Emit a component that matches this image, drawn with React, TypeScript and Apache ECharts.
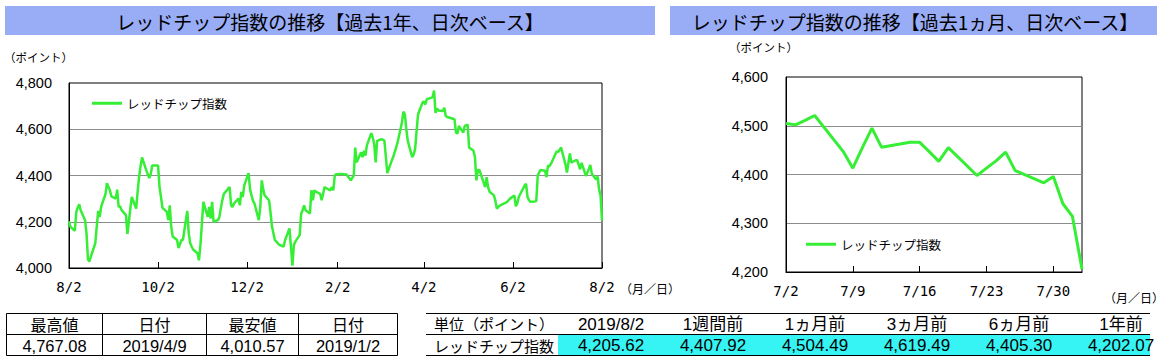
import React, { useEffect, useRef } from "react";
import * as echarts from "echarts";

// ---- Data ----
const yearDates: string[] = [
  "2018-08-02","2018-08-03","2018-08-06","2018-08-07","2018-08-08","2018-08-09","2018-08-10","2018-08-13","2018-08-14","2018-08-15","2018-08-16","2018-08-17","2018-08-20","2018-08-21","2018-08-22","2018-08-23","2018-08-24","2018-08-27","2018-08-28","2018-08-29","2018-08-30","2018-08-31",
  "2018-09-03","2018-09-04","2018-09-05","2018-09-06","2018-09-07","2018-09-10","2018-09-11","2018-09-12","2018-09-13","2018-09-14","2018-09-17","2018-09-18","2018-09-19","2018-09-20","2018-09-21","2018-09-24","2018-09-26","2018-09-27","2018-09-28",
  "2018-10-02","2018-10-03","2018-10-04","2018-10-05","2018-10-08","2018-10-09","2018-10-10","2018-10-11","2018-10-12","2018-10-15","2018-10-16","2018-10-18","2018-10-19","2018-10-22","2018-10-23","2018-10-24","2018-10-25","2018-10-26","2018-10-29","2018-10-30","2018-10-31",
  "2018-11-01","2018-11-02","2018-11-05","2018-11-06","2018-11-07","2018-11-08","2018-11-09","2018-11-12","2018-11-13","2018-11-14","2018-11-15","2018-11-16","2018-11-19","2018-11-20","2018-11-21","2018-11-22","2018-11-23","2018-11-26","2018-11-27","2018-11-28","2018-11-29","2018-11-30",
  "2018-12-03","2018-12-04","2018-12-05","2018-12-06","2018-12-07","2018-12-10","2018-12-11","2018-12-12","2018-12-13","2018-12-14","2018-12-17","2018-12-18","2018-12-19","2018-12-20","2018-12-21","2018-12-24","2018-12-27","2018-12-28","2018-12-31",
  "2019-01-02","2019-01-03","2019-01-04","2019-01-07","2019-01-08","2019-01-09","2019-01-10","2019-01-11","2019-01-14","2019-01-15","2019-01-16","2019-01-17","2019-01-18","2019-01-21","2019-01-22","2019-01-23","2019-01-24","2019-01-25","2019-01-28","2019-01-29","2019-01-30","2019-01-31",
  "2019-02-01","2019-02-04","2019-02-08","2019-02-11","2019-02-12","2019-02-13","2019-02-14","2019-02-15","2019-02-18","2019-02-19","2019-02-20","2019-02-21","2019-02-22","2019-02-25","2019-02-26","2019-02-27","2019-02-28",
  "2019-03-01","2019-03-04","2019-03-05","2019-03-06","2019-03-07","2019-03-08","2019-03-11","2019-03-12","2019-03-13","2019-03-14","2019-03-15","2019-03-18","2019-03-19","2019-03-20","2019-03-21","2019-03-22","2019-03-25","2019-03-26","2019-03-27","2019-03-28","2019-03-29",
  "2019-04-01","2019-04-02","2019-04-03","2019-04-04","2019-04-08","2019-04-09","2019-04-10","2019-04-11","2019-04-12","2019-04-15","2019-04-16","2019-04-17","2019-04-18","2019-04-23","2019-04-24","2019-04-25","2019-04-26","2019-04-29","2019-04-30",
  "2019-05-02","2019-05-03","2019-05-06","2019-05-07","2019-05-08","2019-05-09","2019-05-10","2019-05-14","2019-05-15","2019-05-16","2019-05-17","2019-05-20","2019-05-21","2019-05-22","2019-05-23","2019-05-24","2019-05-27","2019-05-28","2019-05-29","2019-05-30","2019-05-31",
  "2019-06-03","2019-06-04","2019-06-05","2019-06-06","2019-06-10","2019-06-11","2019-06-12","2019-06-13","2019-06-14","2019-06-17","2019-06-18","2019-06-19","2019-06-20","2019-06-21","2019-06-24","2019-06-25","2019-06-26","2019-06-27","2019-06-28",
];
const yearValues: number[] = [
  4202.07,4178,4161,4243,4262,4276,4250,4207,4150,4036,4029,4050,4107,4179,4247,4221,4264,4320,4367,4350,4336,4310,
  4300,4339,4264,4267,4250,4229,4147,4200,4257,4307,4257,4330,4393,4440,4478,4421,4389,4407,4443,
  4443,4350,4307,4260,4243,4207,4271,4179,4136,4121,4086,4121,4121,4247,4150,4107,4093,4080,4064,4033,4100,
  4190,4286,4221,4264,4214,4286,4200,4207,4221,4260,4293,4320,4343,4350,4271,4264,4279,4300,4271,4329,4307,4357,
  4410,4340,4314,4290,4279,4207,4264,4379,4340,4314,4293,4240,4179,4150,4121,4100,4093,4121,4171,
  4010.57,4100,4114,4143,4236,4250,4271,4250,4236,4336,4293,4336,4330,4321,4293,4320,4350,4345,4336,4350,4336,4400,
  4405.30,4407,4404,4379,4390,4400,4521,4457,4500,4479,4507,4486,4530,4583,4564,4536,4457,
  4550,4557,4555,4550,4480,4410,4464,4480,4500,4520,4543,4629,4676,4664,4600,4550,4479,4490,4514,4590,4664,
  4714,4721,4707,4729,4739,4767.08,4671,4690,4681,4679,4693,4657,4653,4643,4586,4581,4614,4586,4614,
  4619.49,4521,4507,4479,4379,4424,4424,4350,4393,4350,4330,4314,4290,4257,4264,4270,4279,4282,4286,4293,4300,
  4314,4267,4280,4307,4357,4364,4307,4293,4286,4288,4290,4400,4414,4424,4421,4393,4443,4440,4450,
];
const monthDates: string[] = [
  "2019-07-02","2019-07-03","2019-07-04","2019-07-05","2019-07-08","2019-07-09","2019-07-10","2019-07-11","2019-07-12",
  "2019-07-15","2019-07-16","2019-07-17","2019-07-18","2019-07-19","2019-07-22","2019-07-23","2019-07-24","2019-07-25",
  "2019-07-26","2019-07-29","2019-07-30","2019-07-31","2019-08-01","2019-08-02",
];
const monthValues: number[] = [
  4504.49,4502,4511,4521,4447,4413,4455,4495,4456,
  4466,4466,4447,4427,4455,4398,4413,4428,4446,
  4407.92,4383,4396,4340,4314,4205.62,
];
const yearTickDates = ["2018-08-02","2018-10-02","2018-12-02","2019-02-02","2019-04-02","2019-06-02","2019-08-02"];
const monthTickDates = ["2019-07-02","2019-07-09","2019-07-16","2019-07-23","2019-07-30"];
const yearStart = "2018-08-02";
const yearEnd = "2019-08-02";
const monthStart = "2019-07-02";
const monthEnd = "2019-08-02";

const seriesName = "レッドチップ指数";
const titleYear = "レッドチップ指数の推移【過去1年、日次ベース】";
const titleMonth = "レッドチップ指数の推移【過去1ヵ月、日次ベース】";
const unitY = "（ポイント）";
const unitX = "（月／日）";

const summaryHeaders = ["最高値", "日付", "最安値", "日付"];
const summaryValues = ["4,767.08", "2019/4/9", "4,010.57", "2019/1/2"];
const compareHeaders = ["単位（ポイント）", "2019/8/2", "1週間前", "1ヵ月前", "3ヵ月前", "6ヵ月前", "1年前"];
const compareRowLabel = "レッドチップ指数";
const compareValues = [4205.62, 4407.92, 4504.49, 4619.49, 4405.30, 4202.07];

// ---- helpers ----
const dayNum = (s: string) => {
  const [y, m, d] = s.split("-").map(Number);
  return Math.round(Date.UTC(y, m - 1, d) / 86400000);
};
const fmtMD = (base: string) => (v: number) => {
  const dt = new Date((dayNum(base) + v) * 86400000);
  return `${dt.getUTCMonth() + 1}/${dt.getUTCDate()}`;
};
const fmtNum = (v: number) => v.toLocaleString("en-US");
const fmt2 = (v: number) =>
  v.toLocaleString("en-US", { minimumFractionDigits: 2, maximumFractionDigits: 2 });

const GREEN = "#35EE35";
const BAR = "#99ACF6";
const CYAN = "#36F4F4";
const JP = "'Noto Sans CJK JP', sans-serif";
const NUMF = "'Liberation Sans', 'Noto Sans CJK JP', sans-serif";

export default function App() {
  const ref = useRef<HTMLDivElement>(null);
  useEffect(() => {
    if (!ref.current) return;
    const chart = echarts.init(ref.current, undefined, { renderer: "svg" });

    const y0 = dayNum(yearStart);
    const m0 = dayNum(monthStart);
    const yearAll = yearDates.concat(monthDates);
    const yearVals = yearValues.concat(monthValues);
    const yearData = yearAll.map((d, i) => [dayNum(d) - y0, yearVals[i]]);
    const monthData = monthDates.map((d, i) => [dayNum(d) - m0, monthValues[i]]);
    const yearTicks = yearTickDates.map((d) => dayNum(d) - y0);
    const monthTicks = monthTickDates.map((d) => dayNum(d) - m0);

    const text = (t: string, x: number, y: number, size: number, family: string, align = "center") => ({
      type: "text",
      silent: true,
      style: {
        text: t, x, y, fill: "#000", fontSize: size, fontFamily: family,
        align, verticalAlign: "middle", textAlign: align, textVerticalAlign: "middle",
      },
    });
    const line = (x1: number, y1: number, x2: number, y2: number) => ({
      type: "line",
      silent: true,
      shape: { x1, y1, x2, y2 },
      style: { stroke: "#000", lineWidth: 1 },
    });

    const graphics: any[] = [];
    // Title bars
    graphics.push({ type: "rect", shape: { x: 5, y: 6, width: 650, height: 29 }, style: { fill: BAR }, silent: true });
    graphics.push(text(titleYear, 330, 21, 19, JP));
    graphics.push({ type: "rect", shape: { x: 670, y: 6, width: 487, height: 29 }, style: { fill: BAR }, silent: true });
    graphics.push(text(titleMonth, 915, 21, 19, JP));
    // unit labels
    graphics.push(text(unitY, 4, 57, 11.5, JP, "left"));
    graphics.push(text(unitY, 729, 47, 11.5, JP, "left"));
    graphics.push(text(unitX, 620, 288, 12, JP, "left"));
    graphics.push(text(unitX, 1104, 297, 12, JP, "left"));

    // Summary table (left bottom)
    const sCols = [6.5, 102.5, 206.5, 298.5, 397.5];
    const sRows = [313.5, 334.5, 355.5];
    sRows.forEach((yy) => graphics.push(line(sCols[0], yy, sCols[4], yy)));
    sCols.forEach((xx) => graphics.push(line(xx, sRows[0], xx, sRows[2])));
    summaryHeaders.forEach((h, i) => {
      const cx = (sCols[i] + sCols[i + 1]) / 2;
      graphics.push(text(h, cx, 324, 16, JP));
      graphics.push(text(summaryValues[i], cx, 345.5, 16.5, NUMF));
    });

    // Comparison table (right bottom)
    const cCenters = [494, 611, 713, 815, 917, 1019, 1121];
    graphics.push({ type: "rect", shape: { x: 558, y: 334, width: 592, height: 21 }, style: { fill: CYAN }, silent: true });
    [313.5, 334.5, 355.5].forEach((yy) => graphics.push(line(426, yy, 1150, yy)));
    compareHeaders.forEach((h, i) => {
      graphics.push(text(h, cCenters[i], 324, i === 0 ? 15 : 17, NUMF));
    });
    graphics.push(text(compareRowLabel, cCenters[0], 345, 15, JP));
    compareValues.forEach((v, i) => {
      graphics.push(text(fmt2(v), cCenters[i + 1], 345.5, 17, NUMF));
    });

    const axisLabelX = { color: "#000", fontSize: 14, fontFamily: "'DejaVu Sans Mono', monospace", margin: 12 };
    const axisLabelY = { color: "#000", fontSize: 14.5, fontFamily: "'Liberation Sans', Arial, sans-serif" };

    chart.setOption({
      animation: false,
      backgroundColor: "#fff",
      grid: [
        { left: 69, top: 83, width: 533, height: 185, show: true, borderColor: "#000", borderWidth: 1, backgroundColor: "transparent" },
        { left: 786, top: 77, width: 296, height: 195, show: true, borderColor: "#000", borderWidth: 1, backgroundColor: "transparent" },
      ],
      xAxis: [
        {
          type: "value", gridIndex: 0, min: 0, max: dayNum(yearEnd) - y0,
          axisLine: { show: true, lineStyle: { color: "#000", width: 1 } },
          axisTick: { show: true, inside: true, length: 6, lineStyle: { color: "#000" }, customValues: yearTicks },
          axisLabel: { ...axisLabelX, formatter: fmtMD(yearStart), customValues: yearTicks, showMinLabel: true, showMaxLabel: true },
          splitLine: { show: false },
        },
        {
          type: "value", gridIndex: 1, min: 0, max: dayNum(monthEnd) - m0,
          axisLine: { show: true, lineStyle: { color: "#000", width: 1 } },
          axisTick: { show: true, inside: true, length: 6, lineStyle: { color: "#000" }, customValues: monthTicks },
          axisLabel: { ...axisLabelX, formatter: fmtMD(monthStart), customValues: monthTicks, showMinLabel: true },
          splitLine: { show: false },
        },
      ],
      yAxis: [
        {
          type: "value", gridIndex: 0, min: 4000, max: 4800, interval: 200,
          axisLine: { show: true, lineStyle: { color: "#000" } },
          axisTick: { show: false },
          axisLabel: { ...axisLabelY, margin: 17, formatter: fmtNum },
          splitLine: { show: true, showMinLine: false, showMaxLine: false, lineStyle: { color: "#8c8c8c", width: 1 } },
        },
        {
          type: "value", gridIndex: 1, min: 4200, max: 4600, interval: 100,
          axisLine: { show: true, lineStyle: { color: "#000" } },
          axisTick: { show: false },
          axisLabel: { ...axisLabelY, margin: 18, formatter: fmtNum },
          splitLine: { show: true, showMinLine: false, showMaxLine: false, lineStyle: { color: "#8c8c8c", width: 1 } },
        },
      ],
      legend: [
        {
          data: [seriesName], left: 92, top: 97, padding: 0, icon: "rect", itemWidth: 30, itemHeight: 3,
          selectedMode: false, textStyle: { color: "#000", fontSize: 12.5, fontFamily: JP },
        },
        {
          data: [seriesName], left: 806, top: 238, padding: 0, icon: "rect", itemWidth: 30, itemHeight: 3,
          selectedMode: false, textStyle: { color: "#000", fontSize: 12.5, fontFamily: JP },
        },
      ],
      series: [
        {
          name: seriesName, type: "line", xAxisIndex: 0, yAxisIndex: 0, data: yearData,
          showSymbol: false, symbol: "none", color: GREEN,
          lineStyle: { color: GREEN, width: 2.5 }, itemStyle: { color: GREEN },
        },
        {
          name: seriesName, type: "line", xAxisIndex: 1, yAxisIndex: 1, data: monthData,
          showSymbol: false, symbol: "none", color: GREEN,
          lineStyle: { color: GREEN, width: 3 }, itemStyle: { color: GREEN },
        },
      ],
      graphic: { elements: graphics },
    });
    return () => chart.dispose();
  }, []);

  return (
    <div
      ref={ref}
      style={{ position: "absolute", left: 0, top: 0, width: 1172, height: 362, background: "#fff" }}
    />
  );
}
